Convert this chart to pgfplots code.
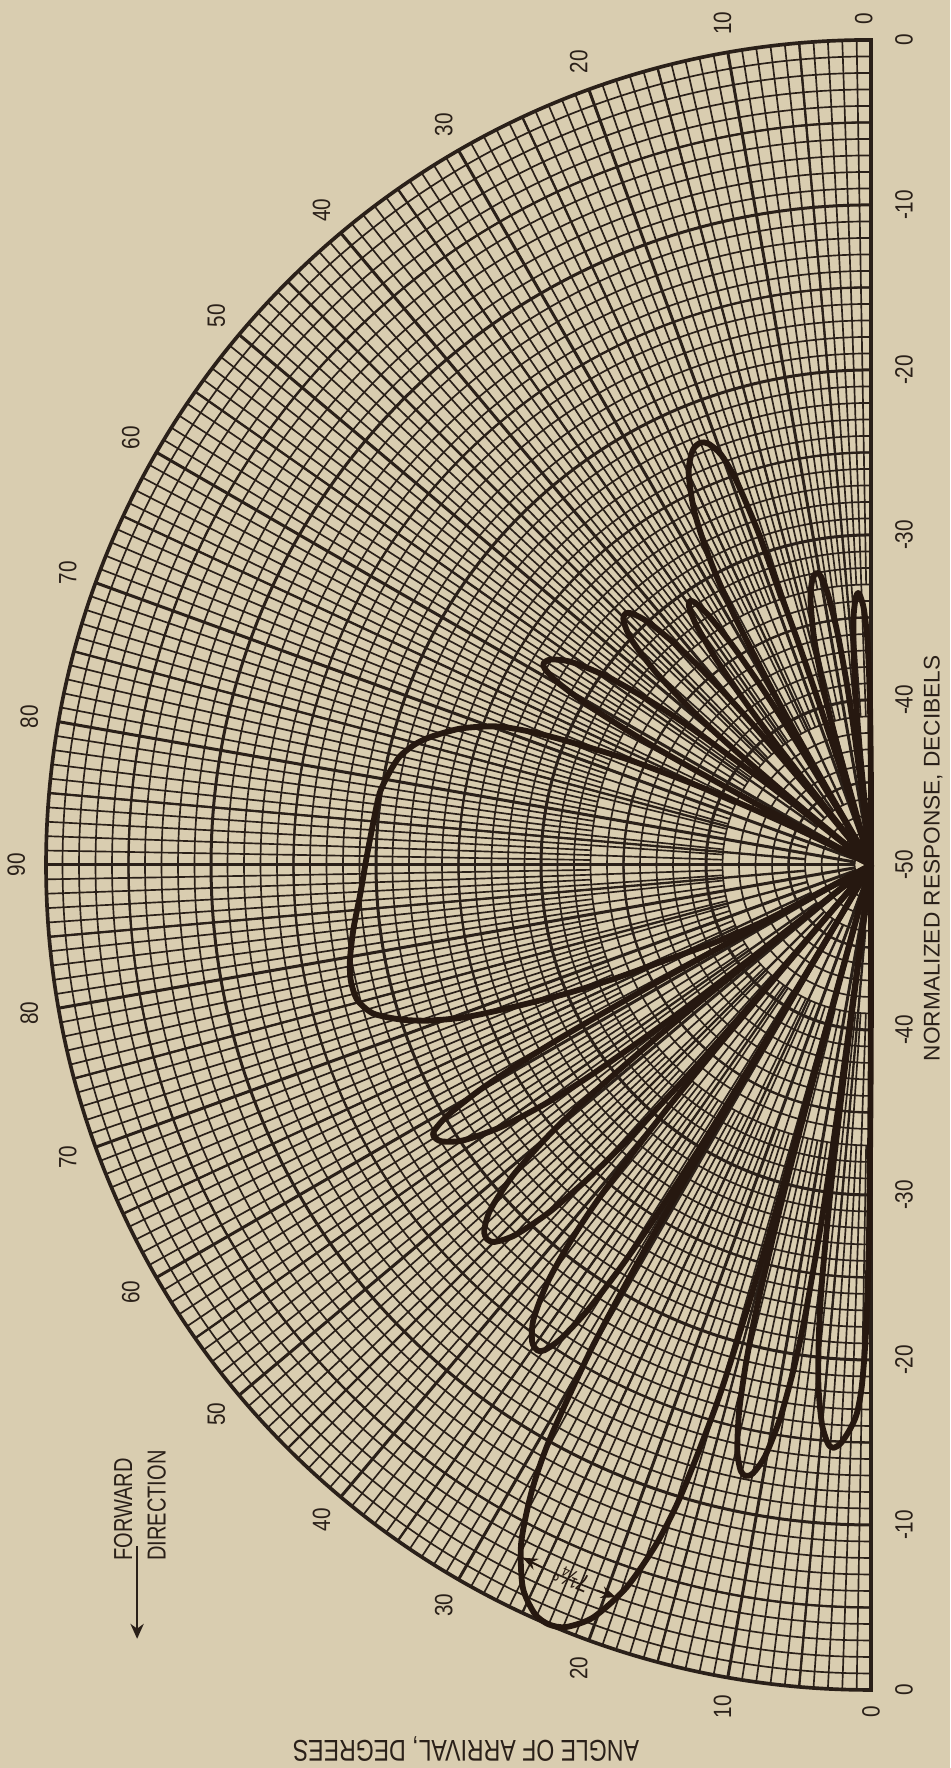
\documentclass[border=0pt]{standalone}
\usepackage{pgfplots}
\pgfplotsset{compat=1.18}
\usepackage{pgfplotstable}
\usetikzlibrary{arrows.meta}
\usepackage{fontspec}
\setmainfont{Liberation Sans}
\newfontfamily\numfont{Liberation Sans}[FakeStretch=0.83]
\newfontfamily\condfont{Liberation Sans}[FakeStretch=0.77]
\definecolor{paper}{RGB}{217,205,176}
\definecolor{gridc}{RGB}{42,32,25}
\definecolor{lobec}{RGB}{38,24,16}
\pgfdeclarelayer{paperlayer}
\pgfdeclarelayer{gridlayer}
\pgfsetlayers{paperlayer,gridlayer,main}
\pgfplotsset{lobe/.style={lobec, line width=1.75pt, smooth, tension=0.45, line join=round, data cs=polar}}

% angle of arrival t (deg, 0 = forward horizon, 180 = backward horizon), r = response + 50 dB
\pgfplotstableread{
t r
0 0
0.1 12
0.3 22
0.6 28
1.0 31.5
1.5 33.3
2.2 34.3
3.0 35.1
3.7 35.4
4.27 35.16
5.03 34.0
5.79 31.65
6.36 28.5
6.74 25.2
7.12 19.3
7.31 13.3
7.42 5.3
7.5 0
}\lobeC
\pgfplotstableread{
t r
7.5 0
7.58 7.7
7.71 15.7
7.91 21.7
8.32 27.6
8.73 30.94
9.35 34.05
10.17 36.42
10.99 37.56
11.6 37.8
12.14 37.56
12.86 36.42
13.58 34.05
14.12 30.94
14.48 27.6
14.84 21.7
15.02 15.7
15.13 7.7
15.2 0
}\lobeB
\pgfplotstableread{
t r
15.2 0
15.36 19.9
15.59 27.9
15.98 33.9
16.76 39.8
17.54 43.14
18.71 46.25
20.27 48.62
21.83 49.76
23 50
24.17 49.76
25.73 48.62
27.29 46.25
28.46 43.14
29.24 39.8
30.02 33.9
30.41 27.9
30.64 19.9
30.8 0
}\lobeA
\pgfplotstableread{
t r
30.8 0
30.87 5.6
30.99 13.6
31.17 19.6
31.54 25.5
31.91 28.84
32.47 31.95
33.21 34.32
33.95 35.46
34.5 35.7
35.4 35.46
36.6 34.32
37.8 31.95
38.7 28.84
39.3 25.5
39.9 19.6
40.2 13.6
40.38 5.6
40.5 0
}\lobeD
\pgfplotstableread{
t r
40.5 0
40.6 2.4
40.76 10.4
41.02 16.4
41.54 22.3
42.06 25.64
42.84 28.75
43.88 31.12
44.92 32.26
45.7 32.5
46.62 32.26
47.84 31.12
49.06 28.75
49.97 25.64
50.58 22.3
51.19 16.4
51.5 10.4
51.68 2.4
51.8 0
}\lobeE
\pgfplotstableread{
t r
51.8 0
51.93 1.1
52.12 9.1
52.44 15.1
53.08 21.0
53.72 24.34
54.68 27.45
55.96 29.82
57.24 30.96
58.2 31.2
58.71 30.96
59.39 29.82
60.07 27.45
60.58 24.34
60.92 21.0
61.26 15.1
61.43 9.1
61.53 1.1
61.6 0
}\lobeF
\pgfplotstableread{
t r
61.6 0
61.9 3.5
62.2 7.1
63.6 10.5
65.1 13.7
66.1 17
67.1 20
68.3 23.2
69.4 26.2
70.6 28.4
71.8 30
73.4 31.5
75.3 32.2
77.5 32.3
79.7 32.1
83 31.6
86.8 31
90.6 30.6
94.5 30.3
98.3 30.1
101 29.7
103 29.3
104.8 28.6
106.2 27.8
108.4 26.2
110.3 24.2
111.3 22.3
112.1 20.1
113.5 15.9
114.8 10.5
116 5
117.6 0
}\lobeG
\pgfplotstableread{
t r
117.6 0
117.8 1.2
118.0 7.2
118.4 13.1
118.8 16.44
119.4 19.55
120.2 21.92
121.0 23.06
121.6 23.3
122.68 23.06
124.12 21.92
125.56 19.55
126.64 16.44
127.36 13.1
128.08 7.2
128.44 1.2
128.8 0
}\lobeH
\pgfplotstableread{
t r
128.8 0
129.48 5.2
130.16 11.1
130.84 14.44
131.86 17.55
133.22 19.92
134.58 21.06
135.6 21.3
136.41 21.06
137.49 19.92
138.57 17.55
139.38 14.44
139.92 11.1
140.46 5.2
141 0
}\lobeI
\pgfplotstableread{
t r
141 0
141.45 3.3
141.9 9.2
142.35 12.54
143.03 15.65
143.93 18.02
144.83 19.16
145.5 19.4
146.12 19.16
146.94 18.02
147.76 15.65
148.37 12.54
148.78 9.2
149.19 3.3
149.6 0
}\lobeJ
\pgfplotstableread{
t r
149.6 0
150.02 5.5
150.44 11.5
151.28 17.4
152.12 20.74
153.38 23.85
155.06 26.22
156.74 27.36
158 27.6
158.9 27.36
159.9 26.5
160.6 25
161.0 23
161.3 21
161.5 17.8
161.9 14
162.2 10
162.6 5
163 0
}\lobeK
\pgfplotstableread{
t r
163 0
163.65 1.9
164.3 7.8
164.95 11.14
165.93 14.25
167.23 16.62
168.53 17.76
169.5 18
170.12 17.76
170.94 16.62
171.76 14.25
172.37 11.14
172.78 7.8
173.19 1.9
173.6 0
}\lobeL
\pgfplotstableread{
t r
173.6 0
173.97 0.4
174.34 6.3
174.71 9.64
175.27 12.75
176.0 15.12
176.75 16.26
177.3 16.5
177.7 16.3
178.4 15.5
179.1 13.5
179.6 10
179.9 5
180 0
}\lobeM

\begin{document}
\begin{tikzpicture}
\begin{axis}[x=4.95pt, y=4.95pt,
  xmin=-52.79, xmax=4.79, ymin=-54.73, ymax=52.42,
  hide axis, clip=false]
\coordinate (O) at (axis cs:0,0);
\coordinate (BL) at (axis cs:-52.79,-54.73);
\coordinate (TR) at (axis cs:4.79,52.42);
\addplot[lobe] table[x expr={270-\thisrow{t}}, y=r] {\lobeC};
\addplot[lobe] table[x expr={270-\thisrow{t}}, y=r] {\lobeB};
\addplot[lobe] table[x expr={270-\thisrow{t}}, y=r] {\lobeA};
\addplot[lobe] table[x expr={270-\thisrow{t}}, y=r] {\lobeD};
\addplot[lobe] table[x expr={270-\thisrow{t}}, y=r] {\lobeE};
\addplot[lobe] table[x expr={270-\thisrow{t}}, y=r] {\lobeF};
\addplot[lobe] table[x expr={270-\thisrow{t}}, y=r] {\lobeG};
\addplot[lobe] table[x expr={270-\thisrow{t}}, y=r] {\lobeH};
\addplot[lobe] table[x expr={270-\thisrow{t}}, y=r] {\lobeI};
\addplot[lobe] table[x expr={270-\thisrow{t}}, y=r] {\lobeJ};
\addplot[lobe] table[x expr={270-\thisrow{t}}, y=r] {\lobeK};
\addplot[lobe] table[x expr={270-\thisrow{t}}, y=r] {\lobeL};
\addplot[lobe] table[x expr={270-\thisrow{t}}, y=r] {\lobeM};
% beamwidth arrows of the main lobe
\addplot[lobec, line width=0.5pt, data cs=polar, -{Stealth[length=4.5pt,width=3.6pt]}] coordinates {(244.9,47) (243.3,47)};
\addplot[lobec, line width=0.5pt, data cs=polar, -{Stealth[length=4.5pt,width=3.6pt]}] coordinates {(249.3,47) (250.8,47)};
\end{axis}

\begin{pgfonlayer}{paperlayer}
\fill[paper] (BL) rectangle (TR);
\end{pgfonlayer}

\begin{scope}[shift={(O)}, x=4.95pt, y=4.95pt]
\begin{pgfonlayer}{gridlayer}
  % circles every 1 dB
  \foreach \r in {1,...,49} \draw[gridc, line width=0.5pt] (90:\r) arc[start angle=90, end angle=270, radius=\r];
  \foreach \r in {5,15,25,35,45} \draw[gridc, line width=0.7pt] (90:\r) arc[start angle=90, end angle=270, radius=\r];
  \foreach \r in {10,20,30,40} \draw[gridc, line width=0.9pt] (90:\r) arc[start angle=90, end angle=270, radius=\r];
  % radial lines
  \foreach \a in {1,...,179} \draw[gridc, line width=0.5pt] ({270-\a}:17) -- ({270-\a}:50);
  \foreach \a in {2,4,...,178} \draw[gridc, line width=0.5pt] ({270-\a}:9) -- ({270-\a}:17);
  \foreach \a in {5,15,...,175} \draw[gridc, line width=0.7pt] ({270-\a}:4) -- ({270-\a}:50);
  \foreach \a in {10,20,...,170} \draw[gridc, line width=0.9pt] ({270-\a}:1) -- ({270-\a}:50);
  % boundary
  \draw[gridc, line width=1.1pt] (90:50) arc[start angle=90, end angle=270, radius=50] -- cycle;
\end{pgfonlayer}

% angle labels
\foreach \a/\l in {10/10,20/20,30/30,40/40,50/50,60/60,70/70,80/80,90/90,100/80,110/70,120/60,130/50,140/40,150/30,160/20,170/10}
  \node[rotate=90, inner sep=0, text=gridc, font=\numfont\fontsize{7.5}{9}\selectfont] at ({270-\a}:51.8) {\l};
\node[rotate=90, inner sep=0, text=gridc, font=\numfont\fontsize{7.5}{9}\selectfont] at (270:51.3) {0};
\node[rotate=90, inner sep=0, text=gridc, font=\numfont\fontsize{7.5}{9}\selectfont] at (90.5:51.3) {0};
% response labels
\foreach \y/\l in {50/0,40/-10,30/-20,20/-30,10/-40,0/-50,-10/-40,-20/-30,-30/-20,-40/-10,-50/0}
  \node[rotate=90, inner sep=0, text=gridc, font=\numfont\fontsize{7.5}{9}\selectfont] at (2.0,\y) {\l};
\node[rotate=90, inner sep=0, text=gridc, font=\fontsize{6.8}{8}\selectfont] at (3.76,0.4) {NORMALIZED RESPONSE, DECIBELS};
\node[rotate=180, inner sep=0, text=gridc, font=\condfont\fontsize{9}{10}\selectfont] at (-24.55,-53.58) {ANGLE OF ARRIVAL, DEGREES};
% forward direction
\node[rotate=90, anchor=west, inner sep=0, text=gridc, font=\condfont\fontsize{7.8}{9}\selectfont] at (-45.33,-42.2) {FORWARD};
\node[rotate=90, anchor=west, inner sep=0, text=gridc, font=\condfont\fontsize{7.8}{9}\selectfont] at (-43.3,-42.2) {DIRECTION};
\draw[gridc, line width=0.6pt, -{Stealth[length=4.5pt,width=4pt]}] (-44.48,-41.3) -- (-44.48,-46.9);
% beamwidth note
\node[rotate=157, inner sep=0, text=lobec, font=\numfont\fontsize{7.5}{8}\selectfont] at (247.2:46.9) {7¼°};
\end{scope}

\pgfresetboundingbox
\path (BL) rectangle (TR);
\end{tikzpicture}
\end{document}
